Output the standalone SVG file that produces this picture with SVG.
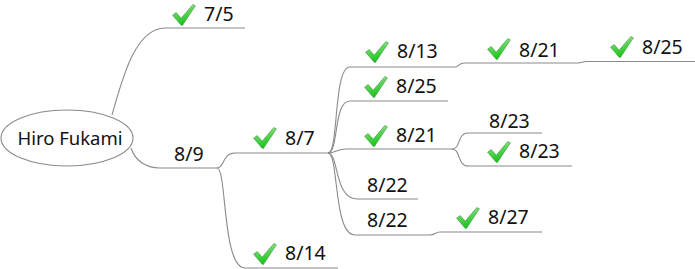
<svg xmlns="http://www.w3.org/2000/svg" xmlns:xlink="http://www.w3.org/1999/xlink" width="695" height="269" viewBox="0 0 695 269">
  <style>
    .link { fill: none; stroke: #8a8a8a; stroke-width: 1.1; }
    .root-shape { fill: #ffffff; stroke: #8a8a8a; stroke-width: 1.1; }
    .label { font-family: "Noto Sans", "DejaVu Sans", sans-serif; font-size: 19.5px; fill: #111111; }
    .root-label { font-family: "Noto Sans", "DejaVu Sans", sans-serif; font-size: 18.5px; fill: #111111; }
  </style>
  <defs>
    <linearGradient id="tickFill" x1="0" y1="0" x2="0.3" y2="1">
      <stop offset="0" stop-color="#c8f5c0"/>
      <stop offset="0.45" stop-color="#5ed85a"/>
      <stop offset="1" stop-color="#17c617"/>
    </linearGradient>
    <!-- green "done" tick -->
    <symbol id="tick" viewBox="0 0 24 22" width="24" height="22">
      <path d="M0.6,11.2 L4.2,8.6 L9.2,14.2 L20.8,0.6 L23.4,1.8 L10.4,21.4 L9.2,21.2 Z"
            fill="url(#tickFill)" stroke="#4f9a4f" stroke-width="0.7" stroke-linejoin="round"/>
    </symbol>
  </defs>

  <!-- connectors -->
  <g id="connectors">
    <path class="link" d="M112,115 C122,80 135,28 165,28 L245,28"/>
    <path class="link" d="M131,148 C135,160 145,168 160,168 L217,168"/>
    <path class="link" d="M217,168 C225,168 222,153 235,153 L328,153"/>
    <path class="link" d="M217,168 C227,168 222,268 245,268 L338,268"/>
    <path class="link" d="M328,153 C339,153 333,67 350,67 L455,67 C459,67 459,63 464,63 L578,63 C582,63 582,61.5 587,61.5 L695,61.5"/>
    <path class="link" d="M328,153 C339,153 333,101 350,101 L448,101"/>
    <path class="link" d="M328,153 C336,153 337,149 346,149 L452,149"/>
    <path class="link" d="M452,149 C461,149 457,133 468,133 L542,133"/>
    <path class="link" d="M452,149 C461,149 457,166 468,166 L572,166"/>
    <path class="link" d="M328,153 C339,153 334,199 357,199 L418,199"/>
    <path class="link" d="M328,153 C339,153 333,235 355,235 L430,235 C435,235 435,232 440,232 L542,232"/>
  </g>

  <!-- central topic -->
  <g id="root">
    <ellipse class="root-shape" cx="67" cy="138" rx="66" ry="28"/>
    <text class="root-label" x="70" y="145" text-anchor="middle">Hiro Fukami</text>
  </g>

  <g id="n-7-5">
    <use xlink:href="#tick" x="172" y="4"/>
    <text class="label" x="204" y="21">7/5</text>
  </g>
  <g id="n-8-9">
    <text class="label" x="174" y="161">8/9</text>
  </g>
  <g id="n-8-7">
    <use xlink:href="#tick" x="253" y="127"/>
    <text class="label" x="285" y="145">8/7</text>
  </g>
  <g id="n-8-13">
    <use xlink:href="#tick" x="365" y="41"/>
    <text class="label" x="397" y="58">8/13</text>
  </g>
  <g id="n-8-21-a">
    <use xlink:href="#tick" x="487" y="38"/>
    <text class="label" x="519" y="57">8/21</text>
  </g>
  <g id="n-8-25-a">
    <use xlink:href="#tick" x="610" y="36"/>
    <text class="label" x="642" y="54">8/25</text>
  </g>
  <g id="n-8-25-b">
    <use xlink:href="#tick" x="364" y="76"/>
    <text class="label" x="396" y="93">8/25</text>
  </g>
  <g id="n-8-21-b">
    <use xlink:href="#tick" x="364" y="125"/>
    <text class="label" x="396" y="142">8/21</text>
  </g>
  <g id="n-8-23-a">
    <text class="label" x="489" y="128">8/23</text>
  </g>
  <g id="n-8-23-b">
    <use xlink:href="#tick" x="487" y="141"/>
    <text class="label" x="519" y="158">8/23</text>
  </g>
  <g id="n-8-22-a">
    <text class="label" x="367" y="192">8/22</text>
  </g>
  <g id="n-8-22-b">
    <text class="label" x="367" y="227">8/22</text>
  </g>
  <g id="n-8-27">
    <use xlink:href="#tick" x="456" y="207"/>
    <text class="label" x="488" y="224">8/27</text>
  </g>
  <g id="n-8-14">
    <use xlink:href="#tick" x="253" y="243"/>
    <text class="label" x="285" y="260">8/14</text>
  </g>
</svg>
